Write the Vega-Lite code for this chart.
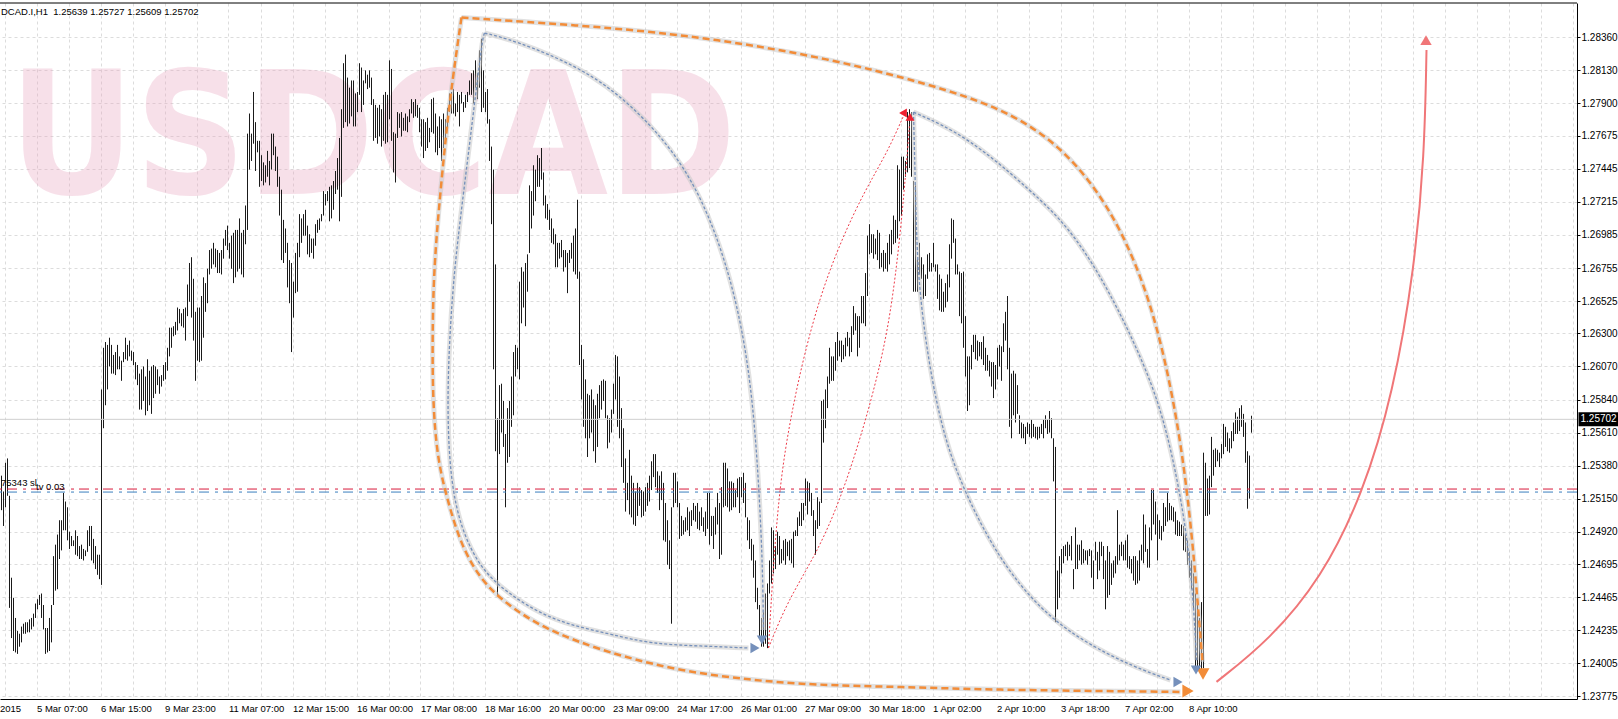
{
"$schema": "https://vega.github.io/schema/vega-lite/v6.json",
"width": 1577, "height": 696,
"autosize": {"type": "none"},
"padding": {"left": 0, "top": 3, "right": 41, "bottom": 20},
"background": "white",
"config": {"view": {"stroke": null}, "font": "Liberation Sans"},
"resolve": {"axis": {"x": "independent", "y": "independent"}},
"datasets": {
"bars": [
{"i":0,"h":1.2531,"l":1.2507},{"i":1,"h":1.2520,"l":1.2496},{"i":2,"h":1.2540,"l":1.2509},{"i":3,"h":1.2543,"l":1.2517},{"i":4,"h":1.2517,"l":1.2439},{"i":5,"h":1.2460,"l":1.2418},{"i":6,"h":1.2446,"l":1.2409},{"i":7,"h":1.2432,"l":1.2408},{"i":8,"h":1.2423,"l":1.2407},{"i":9,"h":1.2421,"l":1.2412},
{"i":10,"h":1.2426,"l":1.2415},{"i":11,"h":1.2428,"l":1.2421},{"i":12,"h":1.2429,"l":1.2421},{"i":13,"h":1.2429,"l":1.2422},{"i":14,"h":1.2431,"l":1.2422},{"i":15,"h":1.2432,"l":1.2424},{"i":16,"h":1.2435,"l":1.2426},{"i":17,"h":1.2442,"l":1.2432},{"i":18,"h":1.2445,"l":1.2438},{"i":19,"h":1.2448,"l":1.2441},
{"i":20,"h":1.2449,"l":1.2432},{"i":21,"h":1.2441,"l":1.2424},{"i":22,"h":1.2425,"l":1.2407},{"i":23,"h":1.2425,"l":1.2408},{"i":24,"h":1.2432,"l":1.2409},{"i":25,"h":1.2441,"l":1.2415},{"i":26,"h":1.2475,"l":1.2441},{"i":27,"h":1.2483,"l":1.2451},{"i":28,"h":1.2490,"l":1.2452},{"i":29,"h":1.2500,"l":1.2473},
{"i":30,"h":1.2500,"l":1.2479},{"i":31,"h":1.2519,"l":1.2493},{"i":32,"h":1.2513,"l":1.2493},{"i":33,"h":1.2509,"l":1.2486},{"i":34,"h":1.2492,"l":1.2480},{"i":35,"h":1.2489,"l":1.2482},{"i":36,"h":1.2486,"l":1.2482},{"i":37,"h":1.2493,"l":1.2476},{"i":38,"h":1.2489,"l":1.2475},{"i":39,"h":1.2482,"l":1.2473},
{"i":40,"h":1.2483,"l":1.2473},{"i":41,"h":1.2480,"l":1.2472},{"i":42,"h":1.2479,"l":1.2475},{"i":43,"h":1.2493,"l":1.2478},{"i":44,"h":1.2496,"l":1.2482},{"i":45,"h":1.2496,"l":1.2472},{"i":46,"h":1.2487,"l":1.2470},{"i":47,"h":1.2482,"l":1.2466},{"i":48,"h":1.2476,"l":1.2462},{"i":49,"h":1.2476,"l":1.2459},
{"i":50,"h":1.2591,"l":1.2455},{"i":51,"h":1.2620,"l":1.2564},{"i":52,"h":1.2624,"l":1.2580},{"i":53,"h":1.2622,"l":1.2591},{"i":54,"h":1.2627,"l":1.2607},{"i":55,"h":1.2622,"l":1.2602},{"i":56,"h":1.2615,"l":1.2602},{"i":57,"h":1.2617,"l":1.2601},{"i":58,"h":1.2622,"l":1.2605},{"i":59,"h":1.2614,"l":1.2605},
{"i":60,"h":1.2611,"l":1.2597},{"i":61,"h":1.2617,"l":1.2610},{"i":62,"h":1.2627,"l":1.2612},{"i":63,"h":1.2622,"l":1.2611},{"i":64,"h":1.2625,"l":1.2614},{"i":65,"h":1.2618,"l":1.2611},{"i":66,"h":1.2617,"l":1.2608},{"i":67,"h":1.2610,"l":1.2598},{"i":68,"h":1.2608,"l":1.2594},{"i":69,"h":1.2602,"l":1.2577},
{"i":70,"h":1.2605,"l":1.2577},{"i":71,"h":1.2607,"l":1.2583},{"i":72,"h":1.2600,"l":1.2573},{"i":73,"h":1.2612,"l":1.2576},{"i":74,"h":1.2604,"l":1.2580},{"i":75,"h":1.2607,"l":1.2574},{"i":76,"h":1.2608,"l":1.2585},{"i":77,"h":1.2607,"l":1.2588},{"i":78,"h":1.2605,"l":1.2594},{"i":79,"h":1.2600,"l":1.2588},
{"i":80,"h":1.2601,"l":1.2593},{"i":81,"h":1.2608,"l":1.2597},{"i":82,"h":1.2610,"l":1.2598},{"i":83,"h":1.2620,"l":1.2604},{"i":84,"h":1.2634,"l":1.2614},{"i":85,"h":1.2634,"l":1.2620},{"i":86,"h":1.2635,"l":1.2628},{"i":87,"h":1.2638,"l":1.2629},{"i":88,"h":1.2648,"l":1.2632},{"i":89,"h":1.2647,"l":1.2637},
{"i":90,"h":1.2644,"l":1.2635},{"i":91,"h":1.2647,"l":1.2634},{"i":92,"h":1.2648,"l":1.2625},{"i":93,"h":1.2664,"l":1.2642},{"i":94,"h":1.2679,"l":1.2652},{"i":95,"h":1.2683,"l":1.2641},{"i":96,"h":1.2668,"l":1.2625},{"i":97,"h":1.2645,"l":1.2597},{"i":98,"h":1.2648,"l":1.2611},{"i":99,"h":1.2648,"l":1.2610},
{"i":100,"h":1.2656,"l":1.2611},{"i":101,"h":1.2669,"l":1.2627},{"i":102,"h":1.2665,"l":1.2645},{"i":103,"h":1.2675,"l":1.2651},{"i":104,"h":1.2688,"l":1.2671},{"i":105,"h":1.2689,"l":1.2675},{"i":106,"h":1.2693,"l":1.2678},{"i":107,"h":1.2689,"l":1.2676},{"i":108,"h":1.2688,"l":1.2672},{"i":109,"h":1.2686,"l":1.2672},
{"i":110,"h":1.2688,"l":1.2671},{"i":111,"h":1.2696,"l":1.2682},{"i":112,"h":1.2702,"l":1.2691},{"i":113,"h":1.2705,"l":1.2688},{"i":114,"h":1.2693,"l":1.2682},{"i":115,"h":1.2698,"l":1.2675},{"i":116,"h":1.2700,"l":1.2665},{"i":117,"h":1.2702,"l":1.2669},{"i":118,"h":1.2702,"l":1.2673},{"i":119,"h":1.2710,"l":1.2675},
{"i":120,"h":1.2700,"l":1.2671},{"i":121,"h":1.2702,"l":1.2669},{"i":122,"h":1.2719,"l":1.2692},{"i":123,"h":1.2769,"l":1.2702},{"i":124,"h":1.2783,"l":1.2744},{"i":125,"h":1.2769,"l":1.2750},{"i":126,"h":1.2798,"l":1.2762},{"i":127,"h":1.2777,"l":1.2743},{"i":128,"h":1.2764,"l":1.2756},{"i":129,"h":1.2764,"l":1.2732},
{"i":130,"h":1.2754,"l":1.2736},{"i":131,"h":1.2749,"l":1.2733},{"i":132,"h":1.2747,"l":1.2735},{"i":133,"h":1.2757,"l":1.2739},{"i":134,"h":1.2750,"l":1.2733},{"i":135,"h":1.2769,"l":1.2744},{"i":136,"h":1.2769,"l":1.2754},{"i":137,"h":1.2760,"l":1.2743},{"i":138,"h":1.2753,"l":1.2732},{"i":139,"h":1.2739,"l":1.2712},
{"i":140,"h":1.2730,"l":1.2681},{"i":141,"h":1.2709,"l":1.2679},{"i":142,"h":1.2703,"l":1.2686},{"i":143,"h":1.2693,"l":1.2662},{"i":144,"h":1.2681,"l":1.2651},{"i":145,"h":1.2679,"l":1.2617},{"i":146,"h":1.2666,"l":1.2641},{"i":147,"h":1.2686,"l":1.2658},{"i":148,"h":1.2693,"l":1.2659},{"i":149,"h":1.2713,"l":1.2683},
{"i":150,"h":1.2710,"l":1.2693},{"i":151,"h":1.2713,"l":1.2698},{"i":152,"h":1.2716,"l":1.2698},{"i":153,"h":1.2705,"l":1.2685},{"i":154,"h":1.2699,"l":1.2683},{"i":155,"h":1.2696,"l":1.2686},{"i":156,"h":1.2696,"l":1.2682},{"i":157,"h":1.2706,"l":1.2691},{"i":158,"h":1.2709,"l":1.2700},{"i":159,"h":1.2710,"l":1.2702},
{"i":160,"h":1.2713,"l":1.2708},{"i":161,"h":1.2729,"l":1.2712},{"i":162,"h":1.2727,"l":1.2719},{"i":163,"h":1.2729,"l":1.2722},{"i":164,"h":1.2732,"l":1.2708},{"i":165,"h":1.2733,"l":1.2710},{"i":166,"h":1.2736,"l":1.2716},{"i":167,"h":1.2743,"l":1.2727},{"i":168,"h":1.2752,"l":1.2730},{"i":169,"h":1.2766,"l":1.2708},
{"i":170,"h":1.2786,"l":1.2725},{"i":171,"h":1.2818,"l":1.2773},{"i":172,"h":1.2824,"l":1.2777},{"i":173,"h":1.2808,"l":1.2774},{"i":174,"h":1.2801,"l":1.2776},{"i":175,"h":1.2806,"l":1.2781},{"i":176,"h":1.2806,"l":1.2774},{"i":177,"h":1.2797,"l":1.2774},{"i":178,"h":1.2798,"l":1.2784},{"i":179,"h":1.2818,"l":1.2796},
{"i":180,"h":1.2815,"l":1.2784},{"i":181,"h":1.2806,"l":1.2789},{"i":182,"h":1.2813,"l":1.2804},{"i":183,"h":1.2810,"l":1.2800},{"i":184,"h":1.2813,"l":1.2801},{"i":185,"h":1.2808,"l":1.2789},{"i":186,"h":1.2793,"l":1.2764},{"i":187,"h":1.2789,"l":1.2766},{"i":188,"h":1.2787,"l":1.2762},{"i":189,"h":1.2789,"l":1.2767},
{"i":190,"h":1.2786,"l":1.2760},{"i":191,"h":1.2796,"l":1.2764},{"i":192,"h":1.2798,"l":1.2762},{"i":193,"h":1.2796,"l":1.2763},{"i":194,"h":1.2820,"l":1.2779},{"i":195,"h":1.2814,"l":1.2764},{"i":196,"h":1.2770,"l":1.2742},{"i":197,"h":1.2769,"l":1.2735},{"i":198,"h":1.2784,"l":1.2766},{"i":199,"h":1.2783,"l":1.2773},
{"i":200,"h":1.2784,"l":1.2767},{"i":201,"h":1.2780,"l":1.2771},{"i":202,"h":1.2783,"l":1.2771},{"i":203,"h":1.2781,"l":1.2770},{"i":204,"h":1.2786,"l":1.2777},{"i":205,"h":1.2793,"l":1.2783},{"i":206,"h":1.2791,"l":1.2780},{"i":207,"h":1.2793,"l":1.2781},{"i":208,"h":1.2789,"l":1.2780},{"i":209,"h":1.2787,"l":1.2770},
{"i":210,"h":1.2779,"l":1.2760},{"i":211,"h":1.2779,"l":1.2752},{"i":212,"h":1.2777,"l":1.2757},{"i":213,"h":1.2780,"l":1.2759},{"i":214,"h":1.2773,"l":1.2763},{"i":215,"h":1.2793,"l":1.2770},{"i":216,"h":1.2794,"l":1.2769},{"i":217,"h":1.2783,"l":1.2756},{"i":218,"h":1.2774,"l":1.2754},{"i":219,"h":1.2781,"l":1.2759},
{"i":220,"h":1.2779,"l":1.2750},{"i":221,"h":1.2783,"l":1.2759},{"i":222,"h":1.2779,"l":1.2764},{"i":223,"h":1.2787,"l":1.2773},{"i":224,"h":1.2797,"l":1.2784},{"i":225,"h":1.2798,"l":1.2783},{"i":226,"h":1.2800,"l":1.2783},{"i":227,"h":1.2790,"l":1.2781},{"i":228,"h":1.2798,"l":1.2784},{"i":229,"h":1.2796,"l":1.2774},
{"i":230,"h":1.2798,"l":1.2790},{"i":231,"h":1.2791,"l":1.2784},{"i":232,"h":1.2796,"l":1.2787},{"i":233,"h":1.2798,"l":1.2791},{"i":234,"h":1.2806,"l":1.2796},{"i":235,"h":1.2811,"l":1.2796},{"i":236,"h":1.2813,"l":1.2790},{"i":237,"h":1.2820,"l":1.2801},{"i":238,"h":1.2811,"l":1.2793},{"i":239,"h":1.2827,"l":1.2801},
{"i":240,"h":1.2835,"l":1.2784},{"i":241,"h":1.2813,"l":1.2787},{"i":242,"h":1.2798,"l":1.2784},{"i":243,"h":1.2800,"l":1.2776},{"i":244,"h":1.2779,"l":1.2750},{"i":245,"h":1.2760,"l":1.2706},{"i":246,"h":1.2744,"l":1.2605},{"i":247,"h":1.2678,"l":1.2548},{"i":248,"h":1.2571,"l":1.2448},{"i":249,"h":1.2594,"l":1.2546},
{"i":250,"h":1.2595,"l":1.2561},{"i":251,"h":1.2583,"l":1.2551},{"i":252,"h":1.2560,"l":1.2509},{"i":253,"h":1.2578,"l":1.2540},{"i":254,"h":1.2583,"l":1.2544},{"i":255,"h":1.2600,"l":1.2565},{"i":256,"h":1.2617,"l":1.2573},{"i":257,"h":1.2622,"l":1.2600},{"i":258,"h":1.2620,"l":1.2605},{"i":259,"h":1.2666,"l":1.2598},
{"i":260,"h":1.2676,"l":1.2637},{"i":261,"h":1.2673,"l":1.2648},{"i":262,"h":1.2679,"l":1.2635},{"i":263,"h":1.2685,"l":1.2659},{"i":264,"h":1.2733,"l":1.2686},{"i":265,"h":1.2729,"l":1.2703},{"i":266,"h":1.2747,"l":1.2712},{"i":267,"h":1.2744,"l":1.2722},{"i":268,"h":1.2754,"l":1.2732},{"i":269,"h":1.2752,"l":1.2732},
{"i":270,"h":1.2759,"l":1.2737},{"i":271,"h":1.2742,"l":1.2719},{"i":272,"h":1.2726,"l":1.2710},{"i":273,"h":1.2720,"l":1.2709},{"i":274,"h":1.2716,"l":1.2702},{"i":275,"h":1.2710,"l":1.2693},{"i":276,"h":1.2703,"l":1.2692},{"i":277,"h":1.2699,"l":1.2676},{"i":278,"h":1.2693,"l":1.2676},{"i":279,"h":1.2693,"l":1.2682},
{"i":280,"h":1.2695,"l":1.2683},{"i":281,"h":1.2688,"l":1.2673},{"i":282,"h":1.2688,"l":1.2676},{"i":283,"h":1.2686,"l":1.2658},{"i":284,"h":1.2688,"l":1.2679},{"i":285,"h":1.2693,"l":1.2682},{"i":286,"h":1.2698,"l":1.2673},{"i":287,"h":1.2703,"l":1.2671},{"i":288,"h":1.2723,"l":1.2668},{"i":289,"h":1.2673,"l":1.2608},
{"i":290,"h":1.2622,"l":1.2584},{"i":291,"h":1.2612,"l":1.2565},{"i":292,"h":1.2598,"l":1.2557},{"i":293,"h":1.2588,"l":1.2544},{"i":294,"h":1.2587,"l":1.2557},{"i":295,"h":1.2591,"l":1.2561},{"i":296,"h":1.2584,"l":1.2548},{"i":297,"h":1.2580,"l":1.2540},{"i":298,"h":1.2588,"l":1.2551},{"i":299,"h":1.2594,"l":1.2571},
{"i":300,"h":1.2597,"l":1.2577},{"i":301,"h":1.2598,"l":1.2583},{"i":302,"h":1.2597,"l":1.2571},{"i":303,"h":1.2573,"l":1.2550},{"i":304,"h":1.2571,"l":1.2554},{"i":305,"h":1.2577,"l":1.2561},{"i":306,"h":1.2595,"l":1.2574},{"i":307,"h":1.2615,"l":1.2584},{"i":308,"h":1.2614,"l":1.2565},{"i":309,"h":1.2600,"l":1.2557},
{"i":310,"h":1.2578,"l":1.2537},{"i":311,"h":1.2564,"l":1.2526},{"i":312,"h":1.2543,"l":1.2506},{"i":313,"h":1.2526,"l":1.2514},{"i":314,"h":1.2549,"l":1.2504},{"i":315,"h":1.2531,"l":1.2502},{"i":316,"h":1.2526,"l":1.2497},{"i":317,"h":1.2520,"l":1.2496},{"i":318,"h":1.2526,"l":1.2503},{"i":319,"h":1.2523,"l":1.2510},
{"i":320,"h":1.2521,"l":1.2502},{"i":321,"h":1.2520,"l":1.2503},{"i":322,"h":1.2523,"l":1.2506},{"i":323,"h":1.2526,"l":1.2510},{"i":324,"h":1.2531,"l":1.2513},{"i":325,"h":1.2541,"l":1.2521},{"i":326,"h":1.2546,"l":1.2530},{"i":327,"h":1.2546,"l":1.2523},{"i":328,"h":1.2534,"l":1.2519},{"i":329,"h":1.2531,"l":1.2507},
{"i":330,"h":1.2534,"l":1.2514},{"i":331,"h":1.2526,"l":1.2486},{"i":332,"h":1.2512,"l":1.2485},{"i":333,"h":1.2500,"l":1.2469},{"i":334,"h":1.2486,"l":1.2466},{"i":335,"h":1.2509,"l":1.2428},{"i":336,"h":1.2533,"l":1.2509},{"i":337,"h":1.2533,"l":1.2512},{"i":338,"h":1.2527,"l":1.2509},{"i":339,"h":1.2512,"l":1.2487},
{"i":340,"h":1.2503,"l":1.2489},{"i":341,"h":1.2500,"l":1.2490},{"i":342,"h":1.2502,"l":1.2492},{"i":343,"h":1.2509,"l":1.2493},{"i":344,"h":1.2506,"l":1.2489},{"i":345,"h":1.2507,"l":1.2496},{"i":346,"h":1.2512,"l":1.2500},{"i":347,"h":1.2510,"l":1.2499},{"i":348,"h":1.2512,"l":1.2494},{"i":349,"h":1.2506,"l":1.2493},
{"i":350,"h":1.2509,"l":1.2496},{"i":351,"h":1.2502,"l":1.2492},{"i":352,"h":1.2506,"l":1.2489},{"i":353,"h":1.2519,"l":1.2494},{"i":354,"h":1.2519,"l":1.2483},{"i":355,"h":1.2503,"l":1.2489},{"i":356,"h":1.2503,"l":1.2480},{"i":357,"h":1.2509,"l":1.2490},{"i":358,"h":1.2519,"l":1.2497},{"i":359,"h":1.2512,"l":1.2473},
{"i":360,"h":1.2523,"l":1.2476},{"i":361,"h":1.2540,"l":1.2509},{"i":362,"h":1.2540,"l":1.2510},{"i":363,"h":1.2536,"l":1.2509},{"i":364,"h":1.2527,"l":1.2506},{"i":365,"h":1.2527,"l":1.2507},{"i":366,"h":1.2526,"l":1.2509},{"i":367,"h":1.2521,"l":1.2509},{"i":368,"h":1.2529,"l":1.2516},{"i":369,"h":1.2530,"l":1.2505},
{"i":370,"h":1.2530,"l":1.2516},{"i":371,"h":1.2533,"l":1.2512},{"i":372,"h":1.2526,"l":1.2502},{"i":373,"h":1.2502,"l":1.2486},{"i":374,"h":1.2500,"l":1.2480},{"i":375,"h":1.2487,"l":1.2472},{"i":376,"h":1.2483,"l":1.2460},{"i":377,"h":1.2472,"l":1.2443},{"i":378,"h":1.2453,"l":1.2438},{"i":379,"h":1.2441,"l":1.2418},
{"i":380,"h":1.2432,"l":1.2412},{"i":381,"h":1.2436,"l":1.2412},{"i":382,"h":1.2449,"l":1.2414},{"i":383,"h":1.2456,"l":1.2411},{"i":384,"h":1.2472,"l":1.2449},{"i":385,"h":1.2495,"l":1.2456},{"i":386,"h":1.2493,"l":1.2463},{"i":387,"h":1.2482,"l":1.2466},{"i":388,"h":1.2492,"l":1.2476},{"i":389,"h":1.2489,"l":1.2469},
{"i":390,"h":1.2480,"l":1.2470},{"i":391,"h":1.2486,"l":1.2472},{"i":392,"h":1.2487,"l":1.2469},{"i":393,"h":1.2485,"l":1.2475},{"i":394,"h":1.2486,"l":1.2472},{"i":395,"h":1.2487,"l":1.2470},{"i":396,"h":1.2492,"l":1.2467},{"i":397,"h":1.2493,"l":1.2489},{"i":398,"h":1.2502,"l":1.2489},{"i":399,"h":1.2506,"l":1.2496},
{"i":400,"h":1.2512,"l":1.2496},{"i":401,"h":1.2512,"l":1.2500},{"i":402,"h":1.2529,"l":1.2510},{"i":403,"h":1.2527,"l":1.2504},{"i":404,"h":1.2526,"l":1.2513},{"i":405,"h":1.2519,"l":1.2503},{"i":406,"h":1.2507,"l":1.2489},{"i":407,"h":1.2500,"l":1.2476},{"i":408,"h":1.2516,"l":1.2494},{"i":409,"h":1.2513,"l":1.2496},
{"i":410,"h":1.2583,"l":1.2512},{"i":411,"h":1.2584,"l":1.2554},{"i":412,"h":1.2591,"l":1.2564},{"i":413,"h":1.2600,"l":1.2578},{"i":414,"h":1.2620,"l":1.2595},{"i":415,"h":1.2614,"l":1.2597},{"i":416,"h":1.2614,"l":1.2597},{"i":417,"h":1.2624,"l":1.2604},{"i":418,"h":1.2631,"l":1.2611},{"i":419,"h":1.2625,"l":1.2614},
{"i":420,"h":1.2625,"l":1.2610},{"i":421,"h":1.2622,"l":1.2612},{"i":422,"h":1.2627,"l":1.2614},{"i":423,"h":1.2631,"l":1.2621},{"i":424,"h":1.2627,"l":1.2614},{"i":425,"h":1.2635,"l":1.2617},{"i":426,"h":1.2649,"l":1.2629},{"i":427,"h":1.2644,"l":1.2632},{"i":428,"h":1.2642,"l":1.2614},{"i":429,"h":1.2642,"l":1.2620},
{"i":430,"h":1.2656,"l":1.2637},{"i":431,"h":1.2656,"l":1.2637},{"i":432,"h":1.2672,"l":1.2635},{"i":433,"h":1.2698,"l":1.2656},{"i":434,"h":1.2706,"l":1.2685},{"i":435,"h":1.2699,"l":1.2686},{"i":436,"h":1.2699,"l":1.2682},{"i":437,"h":1.2696,"l":1.2685},{"i":438,"h":1.2702,"l":1.2681},{"i":439,"h":1.2700,"l":1.2675},
{"i":440,"h":1.2686,"l":1.2676},{"i":441,"h":1.2688,"l":1.2673},{"i":442,"h":1.2686,"l":1.2675},{"i":443,"h":1.2693,"l":1.2673},{"i":444,"h":1.2699,"l":1.2678},{"i":445,"h":1.2702,"l":1.2685},{"i":446,"h":1.2712,"l":1.2692},{"i":447,"h":1.2709,"l":1.2693},{"i":448,"h":1.2747,"l":1.2696},{"i":449,"h":1.2744,"l":1.2708},
{"i":450,"h":1.2753,"l":1.2712},{"i":451,"h":1.2753,"l":1.2730},{"i":452,"h":1.2750,"l":1.2739},{"i":453,"h":1.2784,"l":1.2742},{"i":454,"h":1.2786,"l":1.2745},{"i":455,"h":1.2784,"l":1.2739},{"i":456,"h":1.2736,"l":1.2659},{"i":457,"h":1.2733,"l":1.2659},{"i":458,"h":1.2682,"l":1.2659},{"i":459,"h":1.2693,"l":1.2671},
{"i":460,"h":1.2683,"l":1.2668},{"i":461,"h":1.2678,"l":1.2654},{"i":462,"h":1.2671,"l":1.2656},{"i":463,"h":1.2685,"l":1.2668},{"i":464,"h":1.2686,"l":1.2673},{"i":465,"h":1.2679,"l":1.2673},{"i":466,"h":1.2693,"l":1.2676},{"i":467,"h":1.2678,"l":1.2673},{"i":468,"h":1.2678,"l":1.2654},{"i":469,"h":1.2671,"l":1.2646},
{"i":470,"h":1.2668,"l":1.2645},{"i":471,"h":1.2659,"l":1.2645},{"i":472,"h":1.2665,"l":1.2648},{"i":473,"h":1.2671,"l":1.2652},{"i":474,"h":1.2692,"l":1.2662},{"i":475,"h":1.2710,"l":1.2682},{"i":476,"h":1.2709,"l":1.2693},{"i":477,"h":1.2696,"l":1.2671},{"i":478,"h":1.2678,"l":1.2671},{"i":479,"h":1.2673,"l":1.2642},
{"i":480,"h":1.2672,"l":1.2637},{"i":481,"h":1.2673,"l":1.2620},{"i":482,"h":1.2642,"l":1.2600},{"i":483,"h":1.2614,"l":1.2576},{"i":484,"h":1.2614,"l":1.2580},{"i":485,"h":1.2622,"l":1.2605},{"i":486,"h":1.2629,"l":1.2617},{"i":487,"h":1.2629,"l":1.2612},{"i":488,"h":1.2625,"l":1.2611},{"i":489,"h":1.2624,"l":1.2614},
{"i":490,"h":1.2624,"l":1.2612},{"i":491,"h":1.2628,"l":1.2608},{"i":492,"h":1.2620,"l":1.2604},{"i":493,"h":1.2615,"l":1.2604},{"i":494,"h":1.2611,"l":1.2600},{"i":495,"h":1.2610,"l":1.2593},{"i":496,"h":1.2610,"l":1.2585},{"i":497,"h":1.2608,"l":1.2591},{"i":498,"h":1.2620,"l":1.2598},{"i":499,"h":1.2622,"l":1.2607},
{"i":500,"h":1.2621,"l":1.2597},{"i":501,"h":1.2637,"l":1.2617},{"i":502,"h":1.2645,"l":1.2625},{"i":503,"h":1.2656,"l":1.2605},{"i":504,"h":1.2620,"l":1.2565},{"i":505,"h":1.2602,"l":1.2557},{"i":506,"h":1.2604,"l":1.2573},{"i":507,"h":1.2602,"l":1.2568},{"i":508,"h":1.2594,"l":1.2574},{"i":509,"h":1.2573,"l":1.2560},
{"i":510,"h":1.2568,"l":1.2557},{"i":511,"h":1.2567,"l":1.2557},{"i":512,"h":1.2565,"l":1.2553},{"i":513,"h":1.2568,"l":1.2560},{"i":514,"h":1.2567,"l":1.2558},{"i":515,"h":1.2570,"l":1.2557},{"i":516,"h":1.2567,"l":1.2558},{"i":517,"h":1.2565,"l":1.2557},{"i":518,"h":1.2565,"l":1.2556},{"i":519,"h":1.2565,"l":1.2557},
{"i":520,"h":1.2567,"l":1.2560},{"i":521,"h":1.2570,"l":1.2557},{"i":522,"h":1.2573,"l":1.2564},{"i":523,"h":1.2570,"l":1.2560},{"i":524,"h":1.2576,"l":1.2561},{"i":525,"h":1.2571,"l":1.2557},{"i":526,"h":1.2557,"l":1.2527},{"i":527,"h":1.2551,"l":1.2429},{"i":528,"h":1.2465,"l":1.2438},{"i":529,"h":1.2475,"l":1.2446},
{"i":530,"h":1.2480,"l":1.2463},{"i":531,"h":1.2482,"l":1.2470},{"i":532,"h":1.2483,"l":1.2475},{"i":533,"h":1.2485,"l":1.2472},{"i":534,"h":1.2483,"l":1.2475},{"i":535,"h":1.2489,"l":1.2472},{"i":536,"h":1.2466,"l":1.2452},{"i":537,"h":1.2495,"l":1.2466},{"i":538,"h":1.2483,"l":1.2466},{"i":539,"h":1.2483,"l":1.2472},
{"i":540,"h":1.2486,"l":1.2469},{"i":541,"h":1.2480,"l":1.2470},{"i":542,"h":1.2479,"l":1.2472},{"i":543,"h":1.2479,"l":1.2469},{"i":544,"h":1.2480,"l":1.2475},{"i":545,"h":1.2479,"l":1.2460},{"i":546,"h":1.2472,"l":1.2452},{"i":547,"h":1.2485,"l":1.2472},{"i":548,"h":1.2478,"l":1.2459},{"i":549,"h":1.2485,"l":1.2465},
{"i":550,"h":1.2485,"l":1.2475},{"i":551,"h":1.2482,"l":1.2459},{"i":552,"h":1.2472,"l":1.2438},{"i":553,"h":1.2482,"l":1.2446},{"i":554,"h":1.2478,"l":1.2448},{"i":555,"h":1.2470,"l":1.2455},{"i":556,"h":1.2472,"l":1.2460},{"i":557,"h":1.2475,"l":1.2463},{"i":558,"h":1.2507,"l":1.2469},{"i":559,"h":1.2483,"l":1.2472},
{"i":560,"h":1.2485,"l":1.2475},{"i":561,"h":1.2483,"l":1.2472},{"i":562,"h":1.2486,"l":1.2472},{"i":563,"h":1.2490,"l":1.2467},{"i":564,"h":1.2475,"l":1.2466},{"i":565,"h":1.2473,"l":1.2463},{"i":566,"h":1.2475,"l":1.2458},{"i":567,"h":1.2475,"l":1.2455},{"i":568,"h":1.2472,"l":1.2456},{"i":569,"h":1.2479,"l":1.2458},
{"i":570,"h":1.2483,"l":1.2472},{"i":571,"h":1.2504,"l":1.2470},{"i":572,"h":1.2497,"l":1.2478},{"i":573,"h":1.2480,"l":1.2467},{"i":574,"h":1.2495,"l":1.2467},{"i":575,"h":1.2521,"l":1.2486},{"i":576,"h":1.2521,"l":1.2497},{"i":577,"h":1.2513,"l":1.2490},{"i":578,"h":1.2504,"l":1.2472},{"i":579,"h":1.2500,"l":1.2487},
{"i":580,"h":1.2496,"l":1.2486},{"i":581,"h":1.2512,"l":1.2492},{"i":582,"h":1.2509,"l":1.2496},{"i":583,"h":1.2519,"l":1.2499},{"i":584,"h":1.2512,"l":1.2500},{"i":585,"h":1.2510,"l":1.2500},{"i":586,"h":1.2509,"l":1.2499},{"i":587,"h":1.2506,"l":1.2490},{"i":588,"h":1.2500,"l":1.2489},{"i":589,"h":1.2499,"l":1.2489},
{"i":590,"h":1.2497,"l":1.2489},{"i":591,"h":1.2496,"l":1.2479},{"i":592,"h":1.2490,"l":1.2478},{"i":593,"h":1.2486,"l":1.2469},{"i":594,"h":1.2478,"l":1.2460},{"i":595,"h":1.2472,"l":1.2452},{"i":596,"h":1.2463,"l":1.2438},{"i":597,"h":1.2449,"l":1.2398},{"i":598,"h":1.2443,"l":1.2395},{"i":599,"h":1.2432,"l":1.2394},
{"i":600,"h":1.2443,"l":1.2396},{"i":601,"h":1.2547,"l":1.2397},{"i":602,"h":1.2540,"l":1.2503},{"i":603,"h":1.2529,"l":1.2503},{"i":604,"h":1.2531,"l":1.2504},{"i":605,"h":1.2558,"l":1.2523},{"i":606,"h":1.2549,"l":1.2531},{"i":607,"h":1.2550,"l":1.2537},{"i":608,"h":1.2549,"l":1.2541},{"i":609,"h":1.2547,"l":1.2537},
{"i":610,"h":1.2553,"l":1.2543},{"i":611,"h":1.2567,"l":1.2546},{"i":612,"h":1.2565,"l":1.2551},{"i":613,"h":1.2561,"l":1.2548},{"i":614,"h":1.2557,"l":1.2547},{"i":615,"h":1.2562,"l":1.2550},{"i":616,"h":1.2568,"l":1.2555},{"i":617,"h":1.2575,"l":1.2560},{"i":618,"h":1.2572,"l":1.2560},{"i":619,"h":1.2578,"l":1.2562},
{"i":620,"h":1.2580,"l":1.2565},{"i":621,"h":1.2574,"l":1.2558},{"i":622,"h":1.2568,"l":1.2540},{"i":623,"h":1.2548,"l":1.2508},{"i":624,"h":1.2545,"l":1.2515},{"i":625,"h":1.25727,"l":1.25609}
],
"curves": [
{"c":"o1","k":0,"i":230,"p":1.28498},{"c":"o1","k":1,"i":309.5,"p":1.28425},{"c":"o1","k":2,"i":360.5,"p":1.28341},{"c":"o1","k":3,"i":412.5,"p":1.28216},{"c":"o1","k":4,"i":464,"p":1.28035},{"c":"o1","k":5,"i":499.5,"p":1.27868},{"c":"o1","k":6,"i":524.5,"p":1.2766},{"c":"o1","k":7,"i":544.5,"p":1.27367},{"c":"o1","k":8,"i":560.5,"p":1.27006},{"c":"o1","k":9,"i":573.5,"p":1.2656},{"c":"o1","k":10,"i":582.5,"p":1.2608},{"c":"o1","k":11,"i":589.5,"p":1.25558},{"c":"o1","k":12,"i":594.5,"p":1.25002},{"c":"o1","k":13,"i":598,"p":1.24445},{"c":"o1","k":14,"i":600.5,"p":1.24014},
{"c":"o2","k":0,"i":230,"p":1.28498},{"c":"o2","k":1,"i":224,"p":1.27924},{"c":"o2","k":2,"i":219.5,"p":1.27298},{"c":"o2","k":3,"i":216.5,"p":1.26811},{"c":"o2","k":4,"i":215.5,"p":1.26393},{"c":"o2","k":5,"i":215.5,"p":1.25837},{"c":"o2","k":6,"i":218,"p":1.25419},{"c":"o2","k":7,"i":223,"p":1.25141},{"c":"o2","k":8,"i":229.5,"p":1.24835},{"c":"o2","k":9,"i":239.5,"p":1.24584},{"c":"o2","k":10,"i":253,"p":1.2441},{"c":"o2","k":11,"i":269.5,"p":1.24264},{"c":"o2","k":12,"i":287,"p":1.2416},{"c":"o2","k":13,"i":309.5,"p":1.24055},{"c":"o2","k":14,"i":339.5,"p":1.23951},{"c":"o2","k":15,"i":374.5,"p":1.23888},{"c":"o2","k":16,"i":405,"p":1.23854},{"c":"o2","k":17,"i":449.5,"p":1.2384},{"c":"o2","k":18,"i":499.5,"p":1.23819},{"c":"o2","k":19,"i":549.5,"p":1.23812},{"c":"o2","k":20,"i":589.5,"p":1.23805},
{"c":"b1","k":0,"i":241.5,"p":1.2839},{"c":"b1","k":1,"i":256,"p":1.28341},{"c":"b1","k":2,"i":289.5,"p":1.28154},{"c":"b1","k":3,"i":314.5,"p":1.27903},{"c":"b1","k":4,"i":341,"p":1.27496},{"c":"b1","k":5,"i":358,"p":1.26992},{"c":"b1","k":6,"i":369.5,"p":1.26421},{"c":"b1","k":7,"i":375.5,"p":1.25857},{"c":"b1","k":8,"i":378.5,"p":1.25287},{"c":"b1","k":9,"i":380.5,"p":1.24716},{"c":"b1","k":10,"i":381,"p":1.24236},
{"c":"b2","k":0,"i":241.5,"p":1.2839},{"c":"b2","k":1,"i":240.5,"p":1.28355},{"c":"b2","k":2,"i":236,"p":1.2784},{"c":"b2","k":3,"i":231,"p":1.27277},{"c":"b2","k":4,"i":226,"p":1.26706},{"c":"b2","k":5,"i":223.5,"p":1.26136},{"c":"b2","k":6,"i":223,"p":1.25711},{"c":"b2","k":7,"i":224.5,"p":1.25287},{"c":"b2","k":8,"i":229.5,"p":1.24946},{"c":"b2","k":9,"i":239.5,"p":1.24661},{"c":"b2","k":10,"i":253,"p":1.24494},{"c":"b2","k":11,"i":269.5,"p":1.24348},{"c":"b2","k":12,"i":286,"p":1.24264},{"c":"b2","k":13,"i":304.5,"p":1.24208},{"c":"b2","k":14,"i":324.5,"p":1.24139},{"c":"b2","k":15,"i":349.5,"p":1.24125},{"c":"b2","k":16,"i":373.5,"p":1.24111},
{"c":"b3","k":0,"i":456,"p":1.2784},{"c":"b3","k":1,"i":483,"p":1.27673},{"c":"b3","k":2,"i":516,"p":1.27277},{"c":"b3","k":3,"i":533,"p":1.27047},{"c":"b3","k":4,"i":549.5,"p":1.26706},{"c":"b3","k":5,"i":566,"p":1.26254},{"c":"b3","k":6,"i":579.5,"p":1.25802},{"c":"b3","k":7,"i":588,"p":1.25287},{"c":"b3","k":8,"i":593,"p":1.24862},{"c":"b3","k":9,"i":596,"p":1.24438},{"c":"b3","k":10,"i":597.5,"p":1.24026},
{"c":"b4","k":0,"i":456,"p":1.2784},{"c":"b4","k":1,"i":457,"p":1.27277},{"c":"b4","k":2,"i":458,"p":1.26706},{"c":"b4","k":3,"i":463,"p":1.26136},{"c":"b4","k":4,"i":471,"p":1.25572},{"c":"b4","k":5,"i":483,"p":1.25148},{"c":"b4","k":6,"i":499.5,"p":1.24716},{"c":"b4","k":7,"i":519.5,"p":1.24375},{"c":"b4","k":8,"i":541,"p":1.24153},{"c":"b4","k":9,"i":566,"p":1.23979},{"c":"b4","k":10,"i":584.5,"p":1.23888},
{"c":"r1","k":0,"i":383.5,"p":1.24111},{"c":"r1","k":1,"i":386,"p":1.24716},{"c":"r1","k":2,"i":389.5,"p":1.25287},{"c":"r1","k":3,"i":394.5,"p":1.25711},{"c":"r1","k":4,"i":401,"p":1.26136},{"c":"r1","k":5,"i":409.5,"p":1.26567},{"c":"r1","k":6,"i":419.5,"p":1.26936},{"c":"r1","k":7,"i":431,"p":1.27277},{"c":"r1","k":8,"i":443,"p":1.27562},{"c":"r1","k":9,"i":451,"p":1.27813},
{"c":"r2","k":0,"i":383.5,"p":1.24111},{"c":"r2","k":1,"i":393,"p":1.24438},{"c":"r2","k":2,"i":408,"p":1.24779},{"c":"r2","k":3,"i":419.5,"p":1.25148},{"c":"r2","k":4,"i":429.5,"p":1.25572},{"c":"r2","k":5,"i":438,"p":1.25997},{"c":"r2","k":6,"i":444.5,"p":1.26421},{"c":"r2","k":7,"i":449.5,"p":1.26992},{"c":"r2","k":8,"i":453,"p":1.27562},{"c":"r2","k":9,"i":454,"p":1.27757},
{"c":"s","k":0,"i":607.5,"p":1.23875},{"c":"s","k":1,"i":634,"p":1.24167},{"c":"s","k":2,"i":660,"p":1.24598},{"c":"s","k":3,"i":680.5,"p":1.25176},{"c":"s","k":4,"i":696,"p":1.25892},{"c":"s","k":5,"i":706.5,"p":1.26755},{"c":"s","k":6,"i":711.5,"p":1.27541},{"c":"s","k":7,"i":712.5,"p":1.28272}
],
"arrows": [
{"c":"o1","dir":"down","i":600.75,"p":1.2393},{"c":"o2","dir":"right","i":593.25,"p":1.23812},
{"c":"b1","dir":"down","i":380.25,"p":1.24167},{"c":"b2","dir":"right","i":376.75,"p":1.24111},{"c":"b3","dir":"down","i":597.25,"p":1.23958},{"c":"b4","dir":"right","i":588.25,"p":1.23875},
{"c":"r1","dir":"left","i":450.75,"p":1.27833},{"c":"r2","dir":"up","i":454.25,"p":1.27806},
{"c":"s","dir":"up","i":712.25,"p":1.28341}
],
"levels": [{"name":"bid","p":1.25702},{"name":"sl","p":1.25217},{"name":"open","p":1.25196}],
"notes": [
{"kind":"wm","t":"USDCAD","i":3.75,"p":1.2727},
{"kind":"hdr","t":"DCAD.I,H1\u00a0 1.25639 1.25727 1.25609 1.25702","i":-0.25,"p":1.28536},
{"kind":"lbl","t":"75343 sl","i":-0.25,"p":1.25259},
{"kind":"lbl","t":"tv 0.03","i":17.25,"p":1.25231},
{"kind":"yr","t":"2015","i":-0.75,"p":1.23687}
]
},
"layer": [
{"data":{"name":"notes"},"transform":[{"filter":"datum.kind == 'wm'"}],
 "mark":{"type":"text","align":"left","baseline":"alphabetic","fontSize":172,"fontWeight":"bold","font":"DejaVu Sans Condensed","fill":"#e8a7bf","fillOpacity":0.35},
 "encoding":{"x":{"field":"i","type":"quantitative","scale":{"domain":[-0.75,787.75],"nice":false,"zero":false},"axis":null},
  "y":{"field":"p","type":"quantitative","scale":{"domain":[1.23756,1.28599],"nice":false,"zero":false},"axis":null},
  "text":{"field":"t"}}},
{"data":{"name":"bars"},
 "mark":{"type":"rule","color":"#1a1a1a","strokeWidth":1},
 "encoding":{
  "x":{"field":"i","type":"quantitative","scale":{"domain":[-0.75,787.75],"nice":false,"zero":false},
   "axis":{"orient":"bottom","title":null,"values":[1.5,17.5,33.5,49.5,65.5,81.5,97.5,113.5,129.5,145.5,161.5,177.5,193.5,209.5,225.5,241.5,257.5,273.5,289.5,305.5,321.5,337.5,353.5,369.5,385.5,401.5,417.5,433.5,449.5,465.5,481.5,497.5,513.5,529.5,545.5,561.5,577.5,593.5,609.5,625.5,641.5,657.5,673.5,689.5,705.5,721.5,737.5,753.5,769.5,785.5],
    "grid":true,"gridColor":"#dcdcdc","gridDash":[3,3],"gridWidth":1,"ticks":false,"domain":true,"domainColor":"#000000","domainWidth":1,
    "labelExpr":"(datum.value - 17.5) % 32 == 0 && datum.value < 600 ? ['5 Mar 07:00','6 Mar 15:00','9 Mar 23:00','11 Mar 07:00','12 Mar 15:00','16 Mar 00:00','17 Mar 08:00','18 Mar 16:00','20 Mar 00:00','23 Mar 09:00','24 Mar 17:00','26 Mar 01:00','27 Mar 09:00','30 Mar 18:00','1 Apr 02:00','2 Apr 10:00','3 Apr 18:00','7 Apr 02:00','8 Apr 10:00'][(datum.value - 17.5) / 32] : ''",
    "labelAlign":"left","labelBaseline":"top","labelPadding":4,"labelFontSize":9.5,"labelFont":"Liberation Sans","labelColor":"#000000","labelOverlap":false,"labelBound":false,"labelFlush":false}},
  "y":{"field":"h","type":"quantitative","scale":{"domain":[1.23756,1.28599],"nice":false,"zero":false},
   "axis":{"orient":"right","title":null,"values":[1.23775,1.24005,1.24235,1.24465,1.24695,1.2492,1.2515,1.2538,1.2561,1.2584,1.2607,1.263,1.26525,1.26755,1.26985,1.27215,1.27445,1.27675,1.279,1.2813,1.2836],
    "format":".5f","grid":true,"gridColor":"#dcdcdc","gridDash":[3,3],"gridWidth":1,"tickSize":3,"tickColor":"#000000","domain":true,"domainColor":"#000000","domainWidth":1,
    "labelAlign":"left","labelBaseline":"middle","labelPadding":1,"labelFontSize":10,"labelFont":"Liberation Sans","labelColor":"#000000","labelOverlap":false,"labelBound":false,"labelFlush":false}},
  "y2":{"field":"l"}}},
{"data":{"name":"levels"},"transform":[{"filter":"datum.name == 'bid'"}],
 "mark":{"type":"rule","color":"#cfcfcf","strokeWidth":1},
 "encoding":{"y":{"field":"p","type":"quantitative","scale":{"domain":[1.23756,1.28599],"nice":false,"zero":false},"axis":null}}},
{"data":{"name":"levels"},"transform":[{"filter":"datum.name == 'sl'"}],
 "mark":{"type":"rule","color":"#d81a3a","strokeWidth":1,"strokeDash":[10,5,3,6]},
 "encoding":{"y":{"field":"p","type":"quantitative","scale":{"domain":[1.23756,1.28599],"nice":false,"zero":false},"axis":null}}},
{"data":{"name":"levels"},"transform":[{"filter":"datum.name == 'open'"}],
 "mark":{"type":"rule","color":"#3a7fbd","strokeWidth":1,"strokeDash":[10,5,3,6]},
 "encoding":{"y":{"field":"p","type":"quantitative","scale":{"domain":[1.23756,1.28599],"nice":false,"zero":false},"axis":null}}},
{"data":{"name":"curves"},"transform":[{"filter":{"field":"c","oneOf":["o1","o2","b1","b2","b3","b4"]}}],
 "mark":{"type":"line","interpolate":"basis","color":"#c8c8c8","strokeWidth":5,"opacity":0.55},
 "encoding":{"x":{"field":"i","type":"quantitative","scale":{"domain":[-0.75,787.75],"nice":false,"zero":false},"axis":null},
  "y":{"field":"p","type":"quantitative","scale":{"domain":[1.23756,1.28599],"nice":false,"zero":false},"axis":null},
  "detail":{"field":"c"},"order":{"field":"k","type":"quantitative"}}},
{"data":{"name":"curves"},"transform":[{"filter":{"field":"c","oneOf":["o1","o2"]}}],
 "mark":{"type":"line","interpolate":"basis","color":"#f28c38","strokeWidth":2.5,"strokeDash":[7,4]},
 "encoding":{"x":{"field":"i","type":"quantitative","scale":{"domain":[-0.75,787.75],"nice":false,"zero":false},"axis":null},
  "y":{"field":"p","type":"quantitative","scale":{"domain":[1.23756,1.28599],"nice":false,"zero":false},"axis":null},
  "detail":{"field":"c"},"order":{"field":"k","type":"quantitative"}}},
{"data":{"name":"curves"},"transform":[{"filter":{"field":"c","oneOf":["b1","b2","b3","b4"]}}],
 "mark":{"type":"line","interpolate":"basis","color":"#7590bb","strokeWidth":1.3,"strokeDash":[3,2]},
 "encoding":{"x":{"field":"i","type":"quantitative","scale":{"domain":[-0.75,787.75],"nice":false,"zero":false},"axis":null},
  "y":{"field":"p","type":"quantitative","scale":{"domain":[1.23756,1.28599],"nice":false,"zero":false},"axis":null},
  "detail":{"field":"c"},"order":{"field":"k","type":"quantitative"}}},
{"data":{"name":"curves"},"transform":[{"filter":{"field":"c","oneOf":["r1","r2"]}}],
 "mark":{"type":"line","interpolate":"basis","color":"#ee3a48","strokeWidth":1,"strokeDash":[2,2]},
 "encoding":{"x":{"field":"i","type":"quantitative","scale":{"domain":[-0.75,787.75],"nice":false,"zero":false},"axis":null},
  "y":{"field":"p","type":"quantitative","scale":{"domain":[1.23756,1.28599],"nice":false,"zero":false},"axis":null},
  "detail":{"field":"c"},"order":{"field":"k","type":"quantitative"}}},
{"data":{"name":"curves"},"transform":[{"filter":"datum.c == 's'"}],
 "mark":{"type":"line","interpolate":"basis","color":"#f07678","strokeWidth":2},
 "encoding":{"x":{"field":"i","type":"quantitative","scale":{"domain":[-0.75,787.75],"nice":false,"zero":false},"axis":null},
  "y":{"field":"p","type":"quantitative","scale":{"domain":[1.23756,1.28599],"nice":false,"zero":false},"axis":null},
  "order":{"field":"k","type":"quantitative"}}},
{"data":{"name":"arrows"},"transform":[{"filter":{"field":"c","oneOf":["o1","o2"]}}],
 "mark":{"type":"point","filled":true,"size":170,"color":"#f28c38","opacity":1},
 "encoding":{"x":{"field":"i","type":"quantitative","scale":{"domain":[-0.75,787.75],"nice":false,"zero":false},"axis":null},
  "y":{"field":"p","type":"quantitative","scale":{"domain":[1.23756,1.28599],"nice":false,"zero":false},"axis":null},
  "shape":{"field":"dir","type":"nominal","scale":{"domain":["up","down","left","right"],"range":["triangle-up","triangle-down","triangle-left","triangle-right"]},"legend":null}}},
{"data":{"name":"arrows"},"transform":[{"filter":{"field":"c","oneOf":["b1","b2","b3","b4"]}}],
 "mark":{"type":"point","filled":true,"size":110,"color":"#7590bb","opacity":1},
 "encoding":{"x":{"field":"i","type":"quantitative","scale":{"domain":[-0.75,787.75],"nice":false,"zero":false},"axis":null},
  "y":{"field":"p","type":"quantitative","scale":{"domain":[1.23756,1.28599],"nice":false,"zero":false},"axis":null},
  "shape":{"field":"dir","type":"nominal","scale":{"domain":["up","down","left","right"],"range":["triangle-up","triangle-down","triangle-left","triangle-right"]},"legend":null}}},
{"data":{"name":"arrows"},"transform":[{"filter":{"field":"c","oneOf":["r1","r2"]}}],
 "mark":{"type":"point","filled":true,"size":80,"color":"#ee2030","opacity":1},
 "encoding":{"x":{"field":"i","type":"quantitative","scale":{"domain":[-0.75,787.75],"nice":false,"zero":false},"axis":null},
  "y":{"field":"p","type":"quantitative","scale":{"domain":[1.23756,1.28599],"nice":false,"zero":false},"axis":null},
  "shape":{"field":"dir","type":"nominal","scale":{"domain":["up","down","left","right"],"range":["triangle-up","triangle-down","triangle-left","triangle-right"]},"legend":null}}},
{"data":{"name":"arrows"},"transform":[{"filter":"datum.c == 's'"}],
 "mark":{"type":"point","filled":true,"size":130,"color":"#f07678","opacity":1},
 "encoding":{"x":{"field":"i","type":"quantitative","scale":{"domain":[-0.75,787.75],"nice":false,"zero":false},"axis":null},
  "y":{"field":"p","type":"quantitative","scale":{"domain":[1.23756,1.28599],"nice":false,"zero":false},"axis":null},
  "shape":{"field":"dir","type":"nominal","scale":{"domain":["up","down","left","right"],"range":["triangle-up","triangle-down","triangle-left","triangle-right"]},"legend":null}}},
{"data":{"name":"notes"},"transform":[{"filter":"datum.kind == 'hdr' || datum.kind == 'lbl' || datum.kind == 'yr'"}],
 "mark":{"type":"text","align":"left","baseline":"middle","fontSize":9.5,"font":"Liberation Sans","color":"#000000"},
 "encoding":{"x":{"field":"i","type":"quantitative","scale":{"domain":[-0.75,787.75],"nice":false,"zero":false},"axis":null},
  "y":{"field":"p","type":"quantitative","scale":{"domain":[1.23756,1.28599],"nice":false,"zero":false},"axis":null},
  "text":{"field":"t"}}},
{"data":{"name":"levels"},"transform":[{"filter":"datum.name == 'bid'"}],
 "mark":{"type":"rule","color":"#000000","strokeWidth":14},
 "encoding":{"x":{"datum":788.5,"type":"quantitative","scale":{"domain":[-0.75,787.75],"nice":false,"zero":false},"axis":null},"x2":{"datum":808.5},
  "y":{"field":"p","type":"quantitative","scale":{"domain":[1.23756,1.28599],"nice":false,"zero":false},"axis":null}}},
{"data":{"name":"levels"},"transform":[{"filter":"datum.name == 'bid'"}],
 "mark":{"type":"text","align":"left","baseline":"middle","fontSize":10,"font":"Liberation Sans","color":"#ffffff"},
 "encoding":{"x":{"datum":789.5,"type":"quantitative","scale":{"domain":[-0.75,787.75],"nice":false,"zero":false},"axis":null},
  "y":{"field":"p","type":"quantitative","scale":{"domain":[1.23756,1.28599],"nice":false,"zero":false},"axis":null},
  "text":{"field":"p","format":".5f"}}},
{"data":{"values":[{"p":1.28599}]},
 "mark":{"type":"rule","color":"#000000","strokeWidth":1},
 "encoding":{"y":{"field":"p","type":"quantitative","scale":{"domain":[1.23756,1.28599],"nice":false,"zero":false},"axis":null}}}
]
}
